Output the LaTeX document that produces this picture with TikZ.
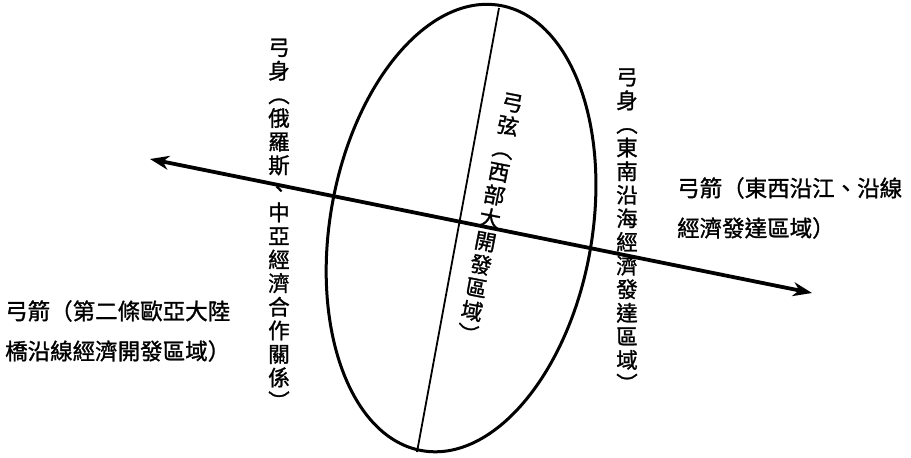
\documentclass[tikz,border=0pt]{standalone}
\usepackage{fontspec}
\newfontfamily\cjk[FakeBold=1.2]{Noto Sans CJK TC}
\usetikzlibrary{arrows.meta}
\begin{document}
\begin{tikzpicture}[x=1pt,y=-1pt,
  hlbl/.style={inner sep=0pt, font=\cjk\fontsize{22.5}{40}\selectfont, align=left, anchor=west},
  vcol/.style={inner sep=0pt, font=\cjk\fontsize{21.5}{23.6}\selectfont, align=center},
  ring/.style={line width=3pt},
  chord/.style={line width=1.8pt},
  axis/.style={line width=3.8pt, {Stealth[length=19pt,width=14pt,inset=6pt]}-{Stealth[length=19pt,width=14pt,inset=6pt]}}]
\useasboundingbox (0,0) rectangle (911,458);
\coordinate (c) at (461,228);
\draw[ring, rotate around={-10:(c)}] (c) ellipse [x radius=131, y radius=226];
\coordinate (ct) at (499,8);
\coordinate (cb) at (417,452);
\draw[chord] (ct) -- (cb);
\coordinate (aw) at (150,159);
\coordinate (ae) at (812,293);
\draw[axis] (aw) -- (ae);
\node[hlbl] (west) at (5,331) {弓箭（第二條歐亞大陸\\橋沿線經濟開發區域）};
\node[hlbl] (east) at (677,208) {弓箭（東西沿江、沿線\\經濟發達區域）};
\node[vcol] (bodyw) at (279,224) {弓\\身\\︵\\俄\\羅\\斯\\、\\中\\亞\\經\\濟\\合\\作\\關\\係\\︶};
\node[vcol] (bodye) at (627,230) {弓\\身\\︵\\東\\南\\沿\\海\\經\\濟\\發\\達\\區\\域\\︶};
\node[vcol, rotate=-11] (string) at (490,218) {弓\\弦\\︵\\西\\部\\大\\開\\發\\區\\域\\︶};
\end{tikzpicture}
\end{document}
